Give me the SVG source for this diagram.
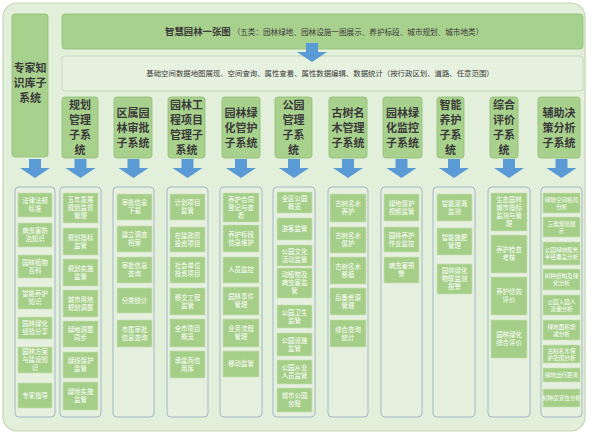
<svg xmlns="http://www.w3.org/2000/svg" xmlns:xlink="http://www.w3.org/1999/xlink" width="589" height="436" viewBox="0 0 589 436">
<style>
text{font-family:"Noto Sans CJK SC","Noto Sans",sans-serif;}
.hd{fill:#a9d18e;stroke:#8fbd73;stroke-width:0.8;}
.ht{font-size:11px;font-weight:700;fill:#3a3a3a;text-anchor:middle;}
.pn{fill:#e5f0de;stroke:#a3b8c6;stroke-width:1;}
.it{fill:#a5cf88;stroke:#c9e2b8;stroke-width:0.6;}
.t{font-size:6.4px;fill:#ffffff;text-anchor:middle;}
.ts{font-size:5.6px;fill:#ffffff;text-anchor:middle;}
.ar{fill:#5b9bd5;}
</style>
<defs>
<path id="arr" d="M-6 0H6V9H15L0 19L-15 9H-6Z"/>
</defs>
<rect x="3" y="3" width="582" height="428" rx="14" fill="#e2efda" stroke="#c3d6b4" stroke-width="1.2"/>

<g id="banner">
<rect class="hd" x="62" y="14" width="521" height="35" rx="3"/>
<text x="165" y="35" fill="#3a3a3a"><tspan font-size="9.4px" font-weight="700">智慧园林一张图</tspan><tspan font-size="7.6px" dx="2">（五类：园林绿地、园林设施一图展示、养护标段、城市规划、城市地类）</tspan></text>
</g>
<g id="base-bar">
<rect x="62" y="56" width="521" height="35" rx="3" fill="#e6f1df" stroke="#c6d8bb" stroke-width="1"/>
<text x="320" y="76" font-size="7.4px" fill="#3a3a3a" text-anchor="middle">基础空间数据地图展现、空间查询、属性查看、属性数据编辑、数据统计（按行政区划、道路、任意范围）</text>
</g>

<g id="connectors" class="ar">
<use xlink:href="#arr" href="#arr" x="312" y="43"/>
<use xlink:href="#arr" href="#arr" x="35" y="159"/>
<use xlink:href="#arr" href="#arr" x="80.5" y="159"/>
<use xlink:href="#arr" href="#arr" x="133.5" y="159"/>
<use xlink:href="#arr" href="#arr" x="187.5" y="159"/>
<use xlink:href="#arr" href="#arr" x="241" y="159"/>
<use xlink:href="#arr" href="#arr" x="294" y="159"/>
<use xlink:href="#arr" href="#arr" x="348" y="159"/>
<use xlink:href="#arr" href="#arr" x="401.5" y="159"/>
<use xlink:href="#arr" href="#arr" x="454" y="159"/>
<use xlink:href="#arr" href="#arr" x="509" y="159"/>
<use xlink:href="#arr" href="#arr" x="561.5" y="159"/>
</g>

<g id="col-expert">
<rect class="hd" x="12" y="14" width="36" height="143" rx="3"/>
<text class="ht" x="30"><tspan x="30" y="72">专家知</tspan><tspan x="30" y="87">识库子</tspan><tspan x="30" y="102">系统</tspan></text>
<rect class="pn" x="15" y="187" width="40" height="230" rx="4"/>
<rect class="it" x="18" y="193" width="34" height="24"/><text class="t"><tspan x="35" y="203.3">法律法规</tspan><tspan x="35" y="211.3">标准</tspan></text>
<rect class="it" x="18" y="223" width="34" height="24"/><text class="t"><tspan x="35" y="233.3">病虫害防</tspan><tspan x="35" y="241.3">治知识</tspan></text>
<rect class="it" x="18" y="255" width="34" height="23"/><text class="t"><tspan x="35" y="264.8">园林植物</tspan><tspan x="35" y="272.8">百科</tspan></text>
<rect class="it" x="18" y="287" width="34" height="22"/><text class="t"><tspan x="35" y="296.3">智能养护</tspan><tspan x="35" y="304.3">知识</tspan></text>
<rect class="it" x="18" y="317" width="34" height="22"/><text class="t"><tspan x="35" y="326.3">园林绿化</tspan><tspan x="35" y="334.3">经验分享</tspan></text>
<rect class="it" x="18" y="347" width="34" height="26"/><text class="t"><tspan x="35" y="354.3">园林方案</tspan><tspan x="35" y="362.3">与建设知</tspan><tspan x="35" y="370.3">识</tspan></text>
<rect class="it" x="18" y="383" width="34" height="25"/><text class="t" x="35" y="397.8">专家指导</text>
</g>

<g id="col-plan">
<rect class="hd" x="62" y="97" width="36" height="61" rx="3"/>
<text class="ht"><tspan x="80" y="109">规划</tspan><tspan x="80" y="124">管理</tspan><tspan x="80" y="139">子系</tspan><tspan x="80" y="153.5">统</tspan></text>
<rect class="pn" x="60" y="187" width="41" height="230" rx="4"/>
<rect class="it" x="63" y="193" width="35" height="30"/><text class="t"><tspan x="80.5" y="202.3">五年发展</tspan><tspan x="80.5" y="210.3">规划监督</tspan><tspan x="80.5" y="218.3">管理</tspan></text>
<rect class="it" x="63" y="228" width="35" height="27"/><text class="t"><tspan x="80.5" y="239.8">规划指标</tspan><tspan x="80.5" y="247.8">监管</tspan></text>
<rect class="it" x="63" y="259" width="35" height="27"/><text class="t"><tspan x="80.5" y="270.8">规划实施</tspan><tspan x="80.5" y="278.8">监管</tspan></text>
<rect class="it" x="63" y="290" width="35" height="27"/><text class="t"><tspan x="80.5" y="301.8">城市用地</tspan><tspan x="80.5" y="309.8">规划调整</tspan></text>
<rect class="it" x="63" y="321" width="35" height="26"/><text class="t"><tspan x="80.5" y="332.3">绿地调整</tspan><tspan x="80.5" y="340.3">同步</tspan></text>
<rect class="it" x="63" y="352" width="35" height="26"/><text class="t"><tspan x="80.5" y="363.3">绿线保护</tspan><tspan x="80.5" y="371.3">监管</tspan></text>
<rect class="it" x="63" y="382" width="35" height="28"/><text class="t"><tspan x="80.5" y="394.3">绿地实施</tspan><tspan x="80.5" y="402.3">监管</tspan></text>
</g>

<g id="col-approve">
<rect class="hd" x="114" y="97" width="38" height="61" rx="3"/>
<text class="ht"><tspan x="133" y="117">区属园</tspan><tspan x="133" y="132">林审批</tspan><tspan x="133" y="147">子系统</tspan></text>
<rect class="pn" x="113" y="187" width="41" height="230" rx="4"/>
<rect class="it" x="117" y="194" width="35" height="26"/><text class="t"><tspan x="134.5" y="205.3">审批信息</tspan><tspan x="134.5" y="213.3">下载</tspan></text>
<rect class="it" x="117" y="226" width="35" height="26"/><text class="t"><tspan x="134.5" y="237.3">建立调查</tspan><tspan x="134.5" y="245.3">档案</tspan></text>
<rect class="it" x="117" y="257" width="35" height="26"/><text class="t"><tspan x="134.5" y="268.3">审批信息</tspan><tspan x="134.5" y="276.3">查询</tspan></text>
<rect class="it" x="117" y="288" width="35" height="25"/><text class="t" x="134.5" y="302.8">分类统计</text>
<rect class="it" x="117" y="320" width="35" height="27"/><text class="t"><tspan x="134.5" y="331.8">市属审批</tspan><tspan x="134.5" y="339.8">信息查询</tspan></text>
</g>

<g id="col-project">
<rect class="hd" x="168" y="97" width="37" height="61" rx="3"/>
<text class="ht"><tspan x="186.5" y="109">园林工</tspan><tspan x="186.5" y="124">程项目</tspan><tspan x="186.5" y="139">管理子</tspan><tspan x="186.5" y="153.5">系统</tspan></text>
<rect class="pn" x="167" y="187" width="41" height="230" rx="4"/>
<rect class="it" x="170" y="194" width="35" height="26"/><text class="t"><tspan x="187.5" y="205.3">计划项目</tspan><tspan x="187.5" y="213.3">监管</tspan></text>
<rect class="it" x="170" y="227" width="35" height="25"/><text class="t"><tspan x="187.5" y="237.8">在建政府</tspan><tspan x="187.5" y="245.8">投资项目</tspan></text>
<rect class="it" x="170" y="257" width="35" height="26"/><text class="t"><tspan x="187.5" y="268.3">社会单位</tspan><tspan x="187.5" y="276.3">投资项目</tspan></text>
<rect class="it" x="170" y="288" width="35" height="27"/><text class="t"><tspan x="187.5" y="299.8">移交工程</tspan><tspan x="187.5" y="307.8">监管</tspan></text>
<rect class="it" x="170" y="319" width="35" height="28"/><text class="t"><tspan x="187.5" y="331.3">全市项目</tspan><tspan x="187.5" y="339.3">概览</tspan></text>
<rect class="it" x="170" y="351" width="35" height="27"/><text class="t"><tspan x="187.5" y="362.8">承建商信</tspan><tspan x="187.5" y="370.8">用库</tspan></text>
</g>

<g id="col-maintain">
<rect class="hd" x="222" y="97" width="38" height="61" rx="3"/>
<text class="ht"><tspan x="241" y="117">园林绿</tspan><tspan x="241" y="132">化管护</tspan><tspan x="241" y="147">子系统</tspan></text>
<rect class="pn" x="220" y="187" width="42" height="230" rx="4"/>
<rect class="it" x="223" y="193" width="36" height="29"/><text class="t"><tspan x="241" y="201.8">养护合同</tspan><tspan x="241" y="209.8">登记与查</tspan><tspan x="241" y="217.8">看</tspan></text>
<rect class="it" x="223" y="225" width="36" height="27"/><text class="t"><tspan x="241" y="236.8">养护标段</tspan><tspan x="241" y="244.8">信息维护</tspan></text>
<rect class="it" x="223" y="257" width="36" height="26"/><text class="t" x="241" y="272.3">人员监控</text>
<rect class="it" x="223" y="287" width="36" height="28"/><text class="t"><tspan x="241" y="299.3">园林事件</tspan><tspan x="241" y="307.3">管理</tspan></text>
<rect class="it" x="223" y="319" width="36" height="28"/><text class="t"><tspan x="241" y="331.3">业务流程</tspan><tspan x="241" y="339.3">管理</tspan></text>
<rect class="it" x="223" y="351" width="36" height="26"/><text class="t" x="241" y="366.3">移动监管</text>
</g>

<g id="col-park">
<rect class="hd" x="275" y="97" width="37" height="61" rx="3"/>
<text class="ht"><tspan x="293.5" y="109">公园</tspan><tspan x="293.5" y="124">管理</tspan><tspan x="293.5" y="139">子系</tspan><tspan x="293.5" y="153.5">统</tspan></text>
<rect class="pn" x="273" y="187" width="42" height="230" rx="4"/>
<rect class="it" x="277" y="192" width="35" height="21"/><text class="t"><tspan x="294.5" y="200.8">全区公园</tspan><tspan x="294.5" y="208.8">概览</tspan></text>
<rect class="it" x="277" y="218" width="35" height="22"/><text class="t" x="294.5" y="231.3">游客监管</text>
<rect class="it" x="277" y="245" width="35" height="21"/><text class="t"><tspan x="294.5" y="253.8">公园文化</tspan><tspan x="294.5" y="261.8">活动监管</tspan></text>
<rect class="it" x="277" y="268" width="35" height="30"/><text class="t"><tspan x="294.5" y="277.3">动植物及</tspan><tspan x="294.5" y="285.3">病虫害监</tspan><tspan x="294.5" y="293.3">管</tspan></text>
<rect class="it" x="277" y="305" width="35" height="23"/><text class="t"><tspan x="294.5" y="314.8">公园卫生</tspan><tspan x="294.5" y="322.8">监管</tspan></text>
<rect class="it" x="277" y="333" width="35" height="23"/><text class="t"><tspan x="294.5" y="342.8">公园设施</tspan><tspan x="294.5" y="350.8">监管</tspan></text>
<rect class="it" x="277" y="360" width="35" height="24"/><text class="t"><tspan x="294.5" y="370.3">公园从业</tspan><tspan x="294.5" y="378.3">人员监管</tspan></text>
<rect class="it" x="277" y="388" width="35" height="24"/><text class="t"><tspan x="294.5" y="398.3">城市公园</tspan><tspan x="294.5" y="406.3">台账</tspan></text>
</g>

<g id="col-tree">
<rect class="hd" x="329" y="97" width="38" height="61" rx="3"/>
<text class="ht"><tspan x="348" y="117">古树名</tspan><tspan x="348" y="132">木管理</tspan><tspan x="348" y="147">子系统</tspan></text>
<rect class="pn" x="328" y="187" width="40" height="230" rx="4"/>
<rect class="it" x="330" y="194" width="36" height="28"/><text class="t"><tspan x="348" y="206.3">古树名木</tspan><tspan x="348" y="214.3">养护</tspan></text>
<rect class="it" x="330" y="227" width="36" height="26"/><text class="t"><tspan x="348" y="238.3">古树名木</tspan><tspan x="348" y="246.3">保护</tspan></text>
<rect class="it" x="330" y="257" width="36" height="27"/><text class="t"><tspan x="348" y="268.8">古树名木</tspan><tspan x="348" y="276.8">移植</tspan></text>
<rect class="it" x="330" y="288" width="36" height="27"/><text class="t"><tspan x="348" y="299.8">后备资源</tspan><tspan x="348" y="307.8">管理</tspan></text>
<rect class="it" x="330" y="320" width="36" height="27"/><text class="t"><tspan x="348" y="331.8">综合查询</tspan><tspan x="348" y="339.8">统计</tspan></text>
</g>

<g id="col-monitor">
<rect class="hd" x="383" y="97" width="39" height="61" rx="3"/>
<text class="ht"><tspan x="402.5" y="117">园林绿</tspan><tspan x="402.5" y="132">化监控</tspan><tspan x="402.5" y="147">子系统</tspan></text>
<rect class="pn" x="381" y="187" width="41" height="230" rx="4"/>
<rect class="it" x="384" y="194" width="35" height="27"/><text class="t"><tspan x="401.5" y="205.8">绿地保护</tspan><tspan x="401.5" y="213.8">视频监管</tspan></text>
<rect class="it" x="384" y="227" width="35" height="25"/><text class="t"><tspan x="401.5" y="237.8">园林养护</tspan><tspan x="401.5" y="245.8">作业监控</tspan></text>
<rect class="it" x="384" y="257" width="35" height="26"/><text class="t"><tspan x="401.5" y="268.3">病虫害预</tspan><tspan x="401.5" y="276.3">警</tspan></text>
</g>

<g id="col-smart">
<rect class="hd" x="437" y="97" width="27" height="61" rx="3"/>
<text class="ht"><tspan x="450.5" y="109">智能</tspan><tspan x="450.5" y="124">养护</tspan><tspan x="450.5" y="139">子系</tspan><tspan x="450.5" y="153.5">统</tspan></text>
<rect class="pn" x="433" y="187" width="42" height="230" rx="4"/>
<rect class="it" x="437" y="194" width="35" height="27"/><text class="t"><tspan x="454.5" y="205.8">智能灌溉</tspan><tspan x="454.5" y="213.8">监测</tspan></text>
<rect class="it" x="437" y="228" width="35" height="27"/><text class="t"><tspan x="454.5" y="239.8">智能施肥</tspan><tspan x="454.5" y="247.8">管理</tspan></text>
<rect class="it" x="437" y="264" width="35" height="30"/><text class="t"><tspan x="454.5" y="273.3">园林绿化</tspan><tspan x="454.5" y="281.3">物联监测</tspan><tspan x="454.5" y="289.3">报警</tspan></text>
</g>

<g id="col-eval">
<rect class="hd" x="490" y="97" width="28" height="61" rx="3"/>
<text class="ht"><tspan x="504" y="109">综合</tspan><tspan x="504" y="124">评价</tspan><tspan x="504" y="139">子系</tspan><tspan x="504" y="153.5">统</tspan></text>
<rect class="pn" x="488" y="187" width="42" height="230" rx="4"/>
<rect class="it" x="491" y="193" width="36" height="38"/><text class="t"><tspan x="509" y="202.3">生态园林</tspan><tspan x="509" y="210.3">城市指标</tspan><tspan x="509" y="218.3">监测与管</tspan><tspan x="509" y="226.3">理</tspan></text>
<rect class="it" x="491" y="235" width="36" height="38"/><text class="t"><tspan x="509" y="252.3">养护检查</tspan><tspan x="509" y="260.3">考核</tspan></text>
<rect class="it" x="491" y="277" width="36" height="38"/><text class="t"><tspan x="509" y="294.3">养护绩效</tspan><tspan x="509" y="302.3">评价</tspan></text>
<rect class="it" x="491" y="320" width="36" height="38"/><text class="t"><tspan x="509" y="337.3">园林绿化</tspan><tspan x="509" y="345.3">综合评价</tspan></text>
</g>

<g id="col-decision">
<rect class="hd" x="538" y="97" width="42" height="61" rx="3"/>
<text class="ht"><tspan x="559" y="117">辅助决</tspan><tspan x="559" y="132">策分析</tspan><tspan x="559" y="147">子系统</tspan></text>
<rect class="pn" x="541" y="187" width="41" height="230" rx="4"/>
<rect class="it" x="543" y="193" width="37" height="20"/><text class="ts"><tspan x="561.5" y="201.5">绿地空间格局</tspan><tspan x="561.5" y="208.5">分析</tspan></text>
<rect class="it" x="543" y="217" width="37" height="20"/><text class="ts"><tspan x="561.5" y="225.5">三维规划展</tspan><tspan x="561.5" y="232.5">示</tspan></text>
<rect class="it" x="543" y="242" width="37" height="23"/><text class="ts"><tspan x="561.5" y="252">公园绿地服务</tspan><tspan x="561.5" y="259">半径覆盖分析</tspan></text>
<rect class="it" x="543" y="269" width="37" height="21"/><text class="ts"><tspan x="561.5" y="278">树种结构及绿</tspan><tspan x="561.5" y="285">化分析</tspan></text>
<rect class="it" x="543" y="295" width="37" height="20"/><text class="ts"><tspan x="561.5" y="303.5">公园入园人</tspan><tspan x="561.5" y="310.5">流量分析</tspan></text>
<rect class="it" x="543" y="320" width="37" height="20"/><text class="ts"><tspan x="561.5" y="328.5">绿地面积增</tspan><tspan x="561.5" y="335.5">减分析</tspan></text>
<rect class="it" x="543" y="345" width="37" height="18"/><text class="ts"><tspan x="561.5" y="352.5">古树名木保</tspan><tspan x="561.5" y="359.5">护范围分析</tspan></text>
<rect class="it" x="543" y="368" width="37" height="14"/><text class="ts" x="561.5" y="377">绿地出行距离</text>
<rect class="it" x="543" y="389" width="37" height="18"/><text class="ts" x="561.5" y="400">树种适宜性分析</text>
</g>
</svg>
